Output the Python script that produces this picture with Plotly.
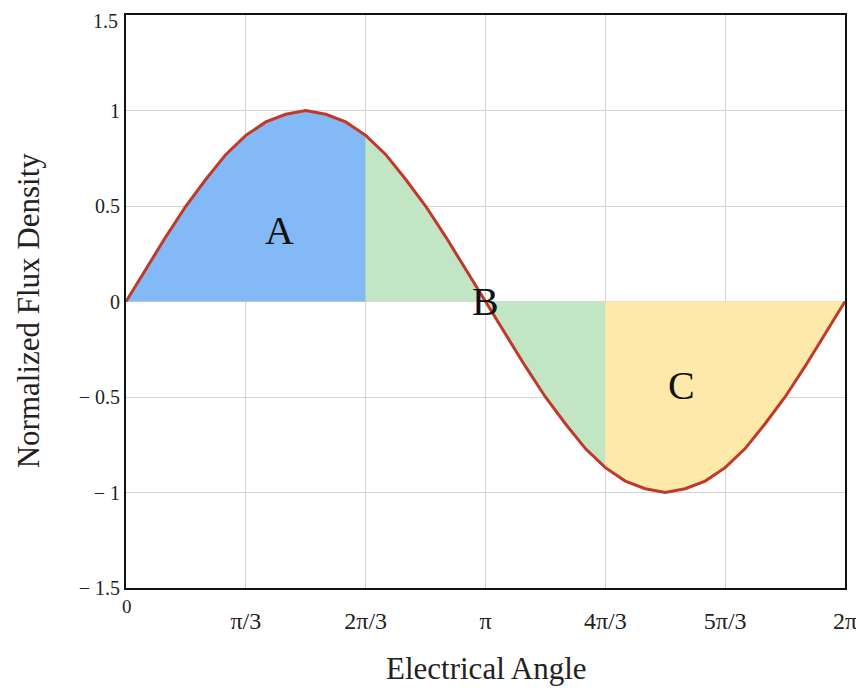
import numpy as np
import plotly.graph_objects as go

# Electrical angle samples (degrees) and normalized flux density
angle_deg = [0, 10, 20, 30, 40, 50, 60, 70, 80, 90, 100, 110, 120, 130, 140, 150, 160, 170, 180,
             190, 200, 210, 220, 230, 240, 250, 260, 270, 280, 290, 300, 310, 320, 330, 340, 350, 360]
flux = [0.0, 0.17, 0.34, 0.5, 0.64, 0.77, 0.87, 0.94, 0.98, 1.0, 0.98, 0.94, 0.87, 0.77, 0.64, 0.5, 0.34, 0.17, 0.0,
        -0.17, -0.34, -0.5, -0.64, -0.77, -0.87, -0.94, -0.98, -1.0, -0.98, -0.94, -0.87, -0.77, -0.64, -0.5, -0.34, -0.17, 0.0]

# Regions (degrees)
regions = [("A", 0, 120, "#82b9f6"), ("B", 120, 240, "#c2e6c3"), ("C", 240, 360, "#fde9a9")]
region_labels = ["A", "B", "C"]
label_x_deg = [77, 180, 278]
label_y = [0.37, 0.0, -0.44]

x_tick_deg = [60, 120, 180, 240, 300, 360]
x_tick_text = ["π/3", "2π/3", "π", "4π/3", "5π/3", "2π"]
y_tick_vals = [-1.5, -1, -0.5, 0, 0.5, 1, 1.5]
y_tick_text = ["− 1.5", "− 1", "− 0.5", "0", "0.5", "1", "1.5"]

x = np.radians(angle_deg)
ang = np.array(angle_deg)
fl = np.array(flux)

fig = go.Figure()
for name, a0, a1, col in regions:
    m = (ang >= a0) & (ang <= a1)
    fig.add_trace(go.Scatter(x=x[m], y=fl[m], mode="lines", fill="tozeroy",
                             fillcolor=col, line=dict(width=0, color=col),
                             hoverinfo="skip", showlegend=False))

fig.add_trace(go.Scatter(x=x, y=fl, mode="lines",
                         line=dict(color="#c0392b", width=3), showlegend=False))

serif = "Liberation Serif, Times New Roman, serif"
for t, xd, yv in zip(region_labels, label_x_deg, label_y):
    fig.add_annotation(x=np.radians(xd), y=yv, text=t, showarrow=False,
                       font=dict(family=serif, size=40, color="#111"))

# Top y tick label drawn as an annotation so it is not clipped at the page top
top_val = y_tick_vals[-1]
top_text = y_tick_text[-1]
axis_tick_text = y_tick_text[:-1] + [""]
fig.add_annotation(x=0, y=top_val, xref="x", yref="y", text=top_text, showarrow=False,
                   xanchor="right", yanchor="top", xshift=-6, yshift=7,
                   font=dict(family=serif, size=20, color="#222"))

fig.add_annotation(x=0, y=-1.5, xref="x", yref="y", text="0", showarrow=False,
                   xanchor="left", yanchor="top", xshift=-6, yshift=-6,
                   font=dict(family=serif, size=19, color="#222"))
fig.add_annotation(x=0.502, y=-0.14, xref="paper", yref="paper", text="Electrical Angle",
                   xanchor="center", yanchor="middle",
                   showarrow=False, font=dict(family=serif, size=31, color="#222"))
fig.add_annotation(x=-0.136, y=0.485, xref="paper", yref="paper", text="Normalized Flux Density",
                   xanchor="center", yanchor="middle",
                   showarrow=False, textangle=-90, font=dict(family=serif, size=31, color="#222"))

fig.update_layout(
    width=864, height=688,
    margin=dict(l=118, r=27, t=7, b=108),
    paper_bgcolor="white", plot_bgcolor="white",
    xaxis=dict(range=[0, 2 * np.pi], tickvals=np.radians(x_tick_deg), ticktext=x_tick_text,
               ticks="outside", ticklen=10, tickcolor="rgba(0,0,0,0)", automargin=False,
               ticklabeloverflow="allow",
               tickfont=dict(family=serif, size=24, color="#222"),
               showgrid=True, gridcolor="#d4d4d4", gridwidth=1,
               showline=True, linecolor="#111", linewidth=2, mirror=True, zeroline=False),
    yaxis=dict(range=[-1.5, 1.5], tickvals=y_tick_vals, ticktext=axis_tick_text,
               ticks="", automargin=False, ticklabeloverflow="allow",
               tickfont=dict(family=serif, size=20, color="#222"),
               showgrid=True, gridcolor="#d4d4d4", gridwidth=1,
               showline=True, linecolor="#111", linewidth=2, mirror=True, zeroline=False),
)

fig.write_html("out.html")
